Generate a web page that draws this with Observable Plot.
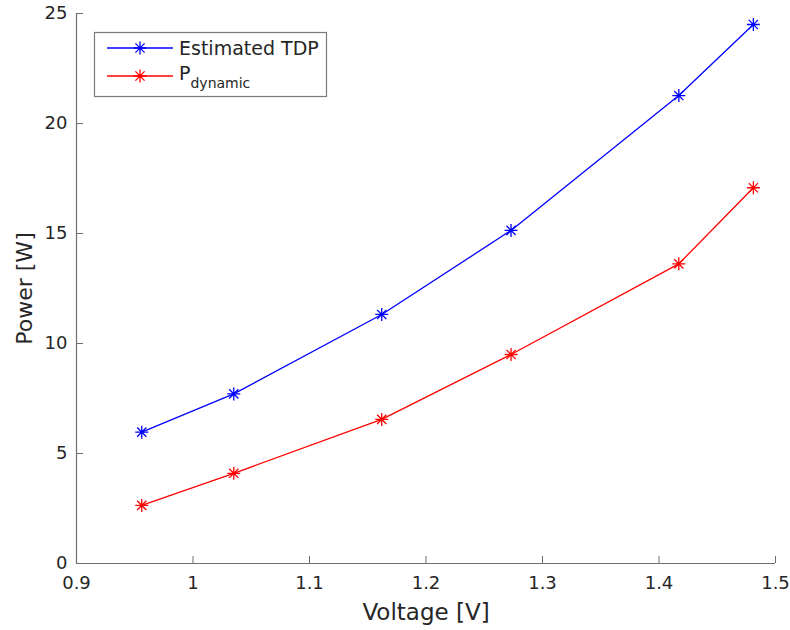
<!DOCTYPE html>
<html>
<head>
<meta charset="utf-8">
<script src="https://cdn.jsdelivr.net/npm/d3@7"></script>
<script src="https://cdn.jsdelivr.net/npm/@observablehq/plot@0.6"></script>
<style>
  html, body { margin: 0; padding: 0; background: #fff; }
  #chart svg { display: block; }
</style>
</head>
<body>
<div id="chart"></div>
<script>
// Data
const voltage = [0.956, 1.035, 1.162, 1.273, 1.417, 1.481];
const estimatedTDP = [5.97, 7.71, 11.32, 15.14, 21.27, 24.5];
const pDynamic = [2.64, 4.10, 6.55, 9.50, 13.62, 17.08];
const xTicks = [0.9, 1.0, 1.1, 1.2, 1.3, 1.4, 1.5];
const yTicks = [0, 5, 10, 15, 20, 25];
const seriesNames = ["Estimated TDP", "P", "dynamic"];

const blueData = voltage.map((v, i) => ({v, p: estimatedTDP[i]}));
const redData = voltage.map((v, i) => ({v, p: pDynamic[i]}));

const BLUE = "#0000ff", RED = "#ff0000", AXIS = "#262626", AXLINE = "#6e6e6e";
const FONT = "DejaVu Sans, sans-serif";

// MATLAB-style '*' marker: + and x combined
const star = {
  draw(ctx, size) {
    const r = Math.sqrt(size / Math.PI);
    const d = r * Math.SQRT1_2;
    ctx.moveTo(-r, 0); ctx.lineTo(r, 0);
    ctx.moveTo(0, -r); ctx.lineTo(0, r);
    ctx.moveTo(-d, -d); ctx.lineTo(d, d);
    ctx.moveTo(-d, d); ctx.lineTo(d, -d);
  }
};

const fmtX = d => (Math.abs(d - Math.round(d)) < 1e-9 ? String(Math.round(d)) : d.toFixed(1));

const plot = Plot.plot({
  width: 790,
  height: 630,
  marginLeft: 76,
  marginRight: 15,
  marginTop: 13,
  marginBottom: 67,
  style: {fontFamily: FONT, color: AXIS, background: "#fff"},
  x: {domain: [0.9, 1.5]},
  y: {domain: [0, 25]},
  marks: [
    Plot.ruleY([0], {stroke: AXLINE, strokeWidth: 1.2}),
    Plot.ruleX([0.9], {stroke: AXLINE, strokeWidth: 1.2}),
    Plot.axisX({ticks: xTicks, tickSize: -7, tickPadding: 20, tickFormat: fmtX, fontSize: 18,
      stroke: AXLINE, fill: AXIS, label: "Voltage [V]", labelAnchor: "center", labelArrow: "none", labelOffset: 56}),
    Plot.axisY({ticks: yTicks, tickSize: -7, tickPadding: 16, fontSize: 18,
      stroke: AXLINE, fill: AXIS, label: "Power [W]", labelAnchor: "center", labelArrow: "none", labelOffset: 60}),
    Plot.line(blueData, {x: "v", y: "p", stroke: BLUE, strokeWidth: 1.3}),
    Plot.dot(blueData, {x: "v", y: "p", symbol: star, r: 6.5, fill: "none", stroke: BLUE, strokeWidth: 1.3}),
    Plot.line(redData, {x: "v", y: "p", stroke: RED, strokeWidth: 1.3}),
    Plot.dot(redData, {x: "v", y: "p", symbol: star, r: 6.5, fill: "none", stroke: RED, strokeWidth: 1.3})
  ]
});

// axis label font sizes
d3.select(plot).selectAll("[aria-label='x-axis label'] text")
  .style("font-size", "23px").attr("fill", AXIS);
d3.select(plot).selectAll("[aria-label='y-axis label'] text")
  .style("font-size", "22px").attr("fill", AXIS);

document.getElementById("chart").appendChild(plot);

// Legend (MATLAB style, boxed)
const svg = d3.select(plot);
const lg = svg.append("g").attr("font-family", FONT).attr("fill", AXIS).attr("text-anchor", "start");
lg.append("rect").attr("x", 94.5).attr("y", 32.5).attr("width", 232).attr("height", 64)
  .attr("fill", "#fff").attr("stroke", "#7a7a7a").attr("stroke-width", 1.2);
const entries = [
  {color: BLUE, y: 48},
  {color: RED, y: 76}
];
const starPath = d3.symbol(star, Math.PI * 6.5 * 6.5)();
entries.forEach(e => {
  lg.append("line").attr("x1", 107).attr("x2", 173).attr("y1", e.y).attr("y2", e.y)
    .attr("stroke", e.color).attr("stroke-width", 1.3);
  lg.append("path").attr("d", starPath).attr("transform", `translate(140,${e.y})`)
    .attr("fill", "none").attr("stroke", e.color).attr("stroke-width", 1.3);
});
lg.append("text").attr("x", 179).attr("y", 48).attr("dy", "0.35em").attr("font-size", 19).text(seriesNames[0]);
const t2 = lg.append("text").attr("x", 179).attr("y", 80).attr("font-size", 19);
t2.append("tspan").text(seriesNames[1]);
t2.append("tspan").attr("dy", 8).attr("font-size", 14).text(seriesNames[2]);
</script>
</body>
</html>
